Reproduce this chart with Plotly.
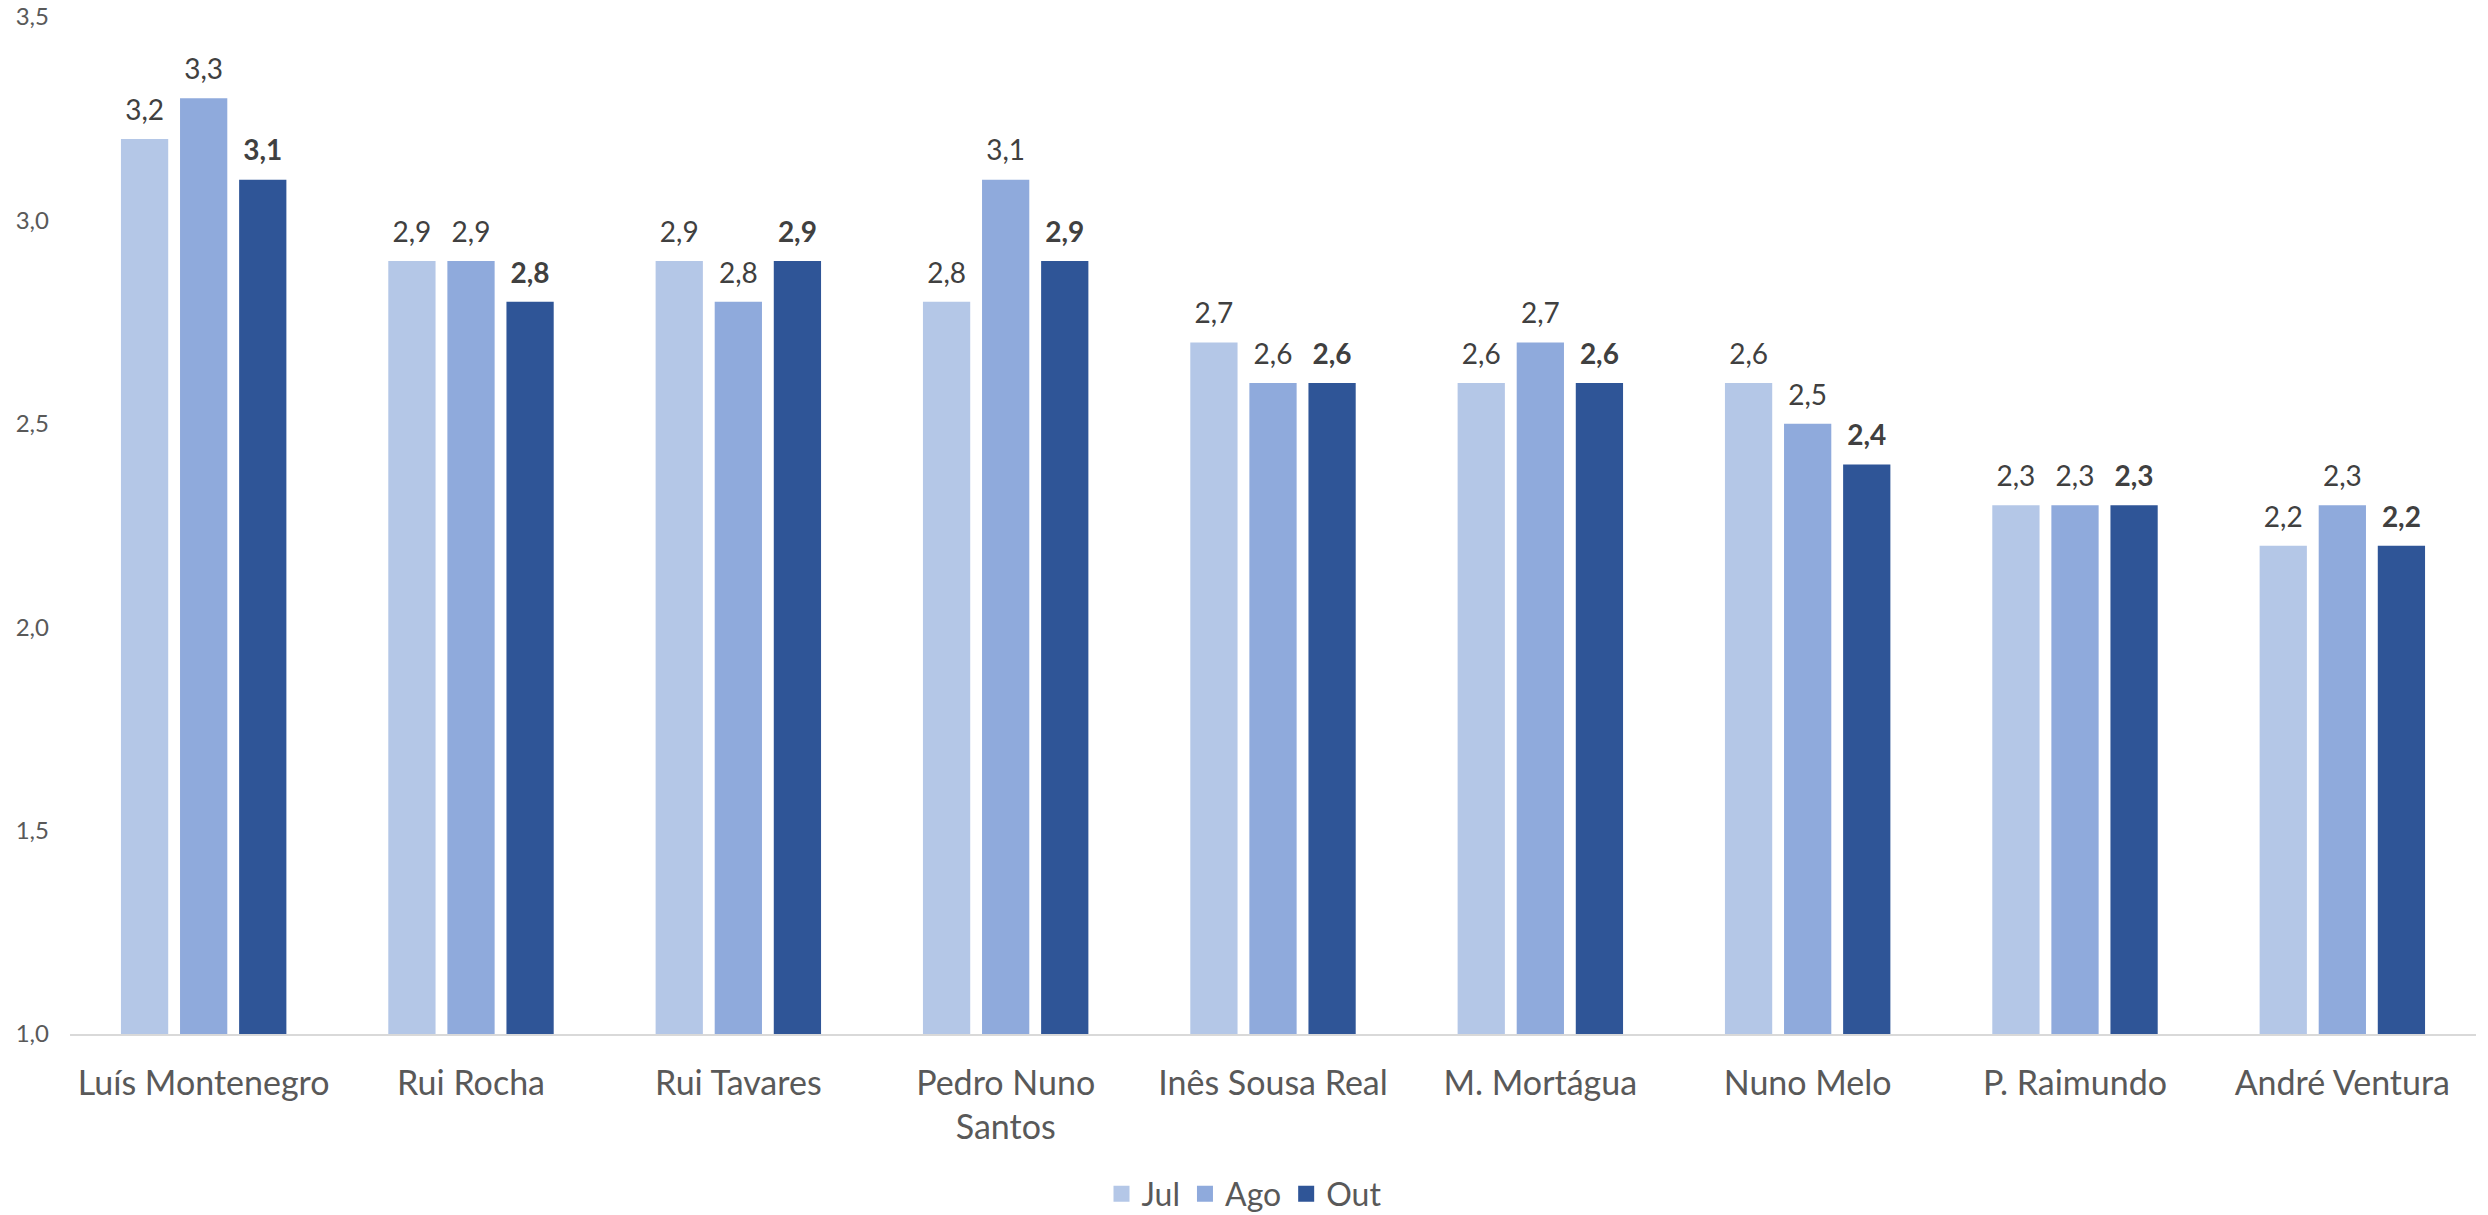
import plotly.graph_objects as go

categories = ["Luís Montenegro", "Rui Rocha", "Rui Tavares", "Pedro Nuno<br>Santos",
              "Inês Sousa Real", "M. Mortágua", "Nuno Melo", "P. Raimundo", "André Ventura"]
jul = [3.2, 2.9, 2.9, 2.8, 2.7, 2.6, 2.6, 2.3, 2.2]
ago = [3.3, 2.9, 2.8, 3.1, 2.6, 2.7, 2.5, 2.3, 2.3]
out = [3.1, 2.8, 2.9, 2.9, 2.6, 2.6, 2.4, 2.3, 2.2]
series_names = ["Jul", "Ago", "Out"]
colors = ["#B4C7E7", "#8FAADC", "#2F5597"]
tick_vals = [1.0, 1.5, 2.0, 2.5, 3.0, 3.5]


def fmt(v):
    return f"{v:.1f}".replace(".", ",")


fig = go.Figure()
# bars
for name, vals, col in zip(series_names, [jul, ago, out], colors):
    fig.add_trace(go.Bar(
        x=categories, y=vals, name=name, marker=dict(color=col, line=dict(width=0)),
        showlegend=False, hoverinfo="skip",
    ))
# value labels (grouped scatter, aligned with bars)
for name, vals in zip(series_names, [jul, ago, out]):
    bold = name == "Out"
    txt = [f"<b>{fmt(v)}</b>" if bold else fmt(v) for v in vals]
    fig.add_trace(go.Scatter(
        x=categories, y=vals, mode="markers+text", text=txt, textposition="top center",
        marker=dict(size=18, opacity=0), cliponaxis=False,
        textfont=dict(family="Lato", size=28, color="#404040"),
        showlegend=False, hoverinfo="skip",
    ))
# legend entries (square icons)
for name, col in zip(series_names, colors):
    fig.add_trace(go.Scatter(
        x=[None], y=[None], mode="markers", name=name, xaxis="x2", yaxis="y2",
        marker=dict(symbol="square", size=21, color=col), hoverinfo="skip",
    ))

fig.update_layout(
    template="none",
    width=2488, height=1215,
    margin=dict(l=70, r=12, t=17, b=181),
    paper_bgcolor="white", plot_bgcolor="white",
    barmode="group", bargap=0.337, bargroupgap=0.2,
    scattermode="group", scattergap=0.337,
    font=dict(family="Lato", color="#595959"),
    showlegend=True,
    legend=dict(orientation="h", x=0.5, xanchor="center", xref="container",
                y=1 - 1194 / 1215, yanchor="middle", yref="container",
                font=dict(family="Lato", size=32, color="#595959"),
                itemwidth=30, traceorder="normal", bgcolor="rgba(0,0,0,0)"),
    xaxis=dict(showline=True, linecolor="#D9D9D9", linewidth=2, ticks="",
               tickfont=dict(family="Lato", size=34, color="#595959"),
               showgrid=False, zeroline=False, automargin=False, ticklabelstandoff=18),
    yaxis=dict(range=[1.0, 3.5], tickvals=tick_vals,
               ticktext=[fmt(v) for v in tick_vals],
               showgrid=False, zeroline=False, showline=False, ticks="",
               tickfont=dict(family="Lato", size=24, color="#595959"),
               ticklabelstandoff=20, automargin=False),
    xaxis2=dict(overlaying="x", visible=False),
    yaxis2=dict(overlaying="y", visible=False),
)

fig.write_html("out.html", config={"displayModeBar": False},
               post_script="document.body.style.margin='0';document.body.style.overflow='hidden';")
